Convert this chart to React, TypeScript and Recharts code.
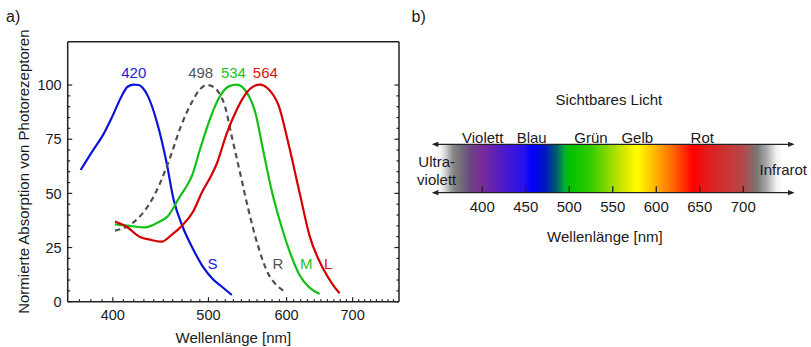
import React from 'react';
import {
  LineChart, Line, XAxis, YAxis, ReferenceDot, ReferenceLine, AreaChart, Area,
} from 'recharts';

// ---------- Panel a data ----------
const sCone = [
  { x: 371, y: 60.8 }, { x: 382, y: 70 }, { x: 391, y: 77 }, { x: 400, y: 86 },
  { x: 408, y: 94.6 }, { x: 414, y: 99.2 }, { x: 420, y: 100.2 }, { x: 425, y: 100 },
  { x: 429, y: 98.6 }, { x: 434, y: 95 }, { x: 443.6, y: 82.5 }, { x: 453.3, y: 64.5 },
  { x: 461, y: 47 }, { x: 470.8, y: 34.6 }, { x: 482, y: 24.6 }, { x: 493.5, y: 16.2 },
  { x: 505, y: 10.5 }, { x: 516, y: 6.9 }, { x: 528, y: 3.1 },
];
const rods = [
  { x: 402, y: 32.8 }, { x: 413, y: 34.6 }, { x: 425.7, y: 39.2 }, { x: 436, y: 45.4 },
  { x: 446.5, y: 54.6 }, { x: 457.5, y: 66.9 }, { x: 468.7, y: 80.8 }, { x: 480.4, y: 91.6 },
  { x: 490, y: 98 }, { x: 498, y: 100 }, { x: 505, y: 99.3 }, { x: 511, y: 97.2 },
  { x: 519.8, y: 90 }, { x: 528, y: 76.2 }, { x: 538.4, y: 59.3 }, { x: 549, y: 42.3 },
  { x: 561.6, y: 25.4 }, { x: 574.6, y: 13.1 }, { x: 586, y: 7.7 }, { x: 597, y: 4.8 },
];
const mCone = [
  { x: 402, y: 35.7 }, { x: 416, y: 35 }, { x: 431, y: 34.3 }, { x: 444, y: 36.5 },
  { x: 455, y: 39.6 }, { x: 467, y: 48 }, { x: 476, y: 54 }, { x: 481, y: 58 },
  { x: 490, y: 70 }, { x: 501, y: 83.5 }, { x: 513, y: 94.5 }, { x: 525, y: 99.5 },
  { x: 534, y: 100.2 }, { x: 546, y: 97 }, { x: 558, y: 87 }, { x: 568, y: 70 },
  { x: 579, y: 52 }, { x: 593, y: 34.6 }, { x: 607, y: 20.8 }, { x: 619, y: 12 },
  { x: 633, y: 6.5 }, { x: 648, y: 3.6 },
];
const lCone = [
  { x: 402, y: 37 }, { x: 413, y: 34.6 }, { x: 425.7, y: 30 }, { x: 437.7, y: 28.5 },
  { x: 448, y: 27.7 }, { x: 458.8, y: 30.8 }, { x: 470.8, y: 35.4 }, { x: 482.3, y: 41.5 },
  { x: 492.8, y: 50.8 }, { x: 503, y: 58 }, { x: 510, y: 63.9 }, { x: 521.8, y: 77.7 },
  { x: 534, y: 88.5 }, { x: 546, y: 96.2 }, { x: 556, y: 99.5 }, { x: 564, y: 100.2 },
  { x: 574, y: 98.5 }, { x: 589, y: 90.5 }, { x: 604, y: 71 }, { x: 618.7, y: 50 },
  { x: 633, y: 30.5 }, { x: 653, y: 15.5 }, { x: 668, y: 8 }, { x: 679, y: 3.9 },
];

const peakTexts = ['420', '498', '534', '564'];
const peakLabelX = [420, 491, 530, 571];
const peakLabelY = 105.7;
const curveNames = ['S', 'R', 'M', 'L'];
const curveNameX = [504.7, 588, 628.3, 661];
const curveNameY = 17.4;

const xMajorTicks = [400, 500, 600, 700];
const xAllTicks = Array.from({ length: 41 }, (_, i) => 370 + i * 10);
const yMajorTicks = [0, 25, 50, 75, 100];
const yAllTicks = Array.from({ length: 21 }, (_, i) => i * 5);

// ---------- Panel b data ----------
const specTicks = [400, 450, 500, 550, 600, 650, 700];
const bandData = [{ x: 345, y: 1 }, { x: 750, y: 1 }];
const spectrumStops: [number, string][] = [
  [345, '#ffffff'], [352, '#f4f4f4'], [358, '#d0d0d0'], [366, '#8a8a8a'],
  [372, '#787878'], [386, '#6a4880'],
  [400, '#7a2a9a'], [426, '#4a1acc'], [449, '#2510ee'], [457, '#0000ff'],
  [472, '#0015c0'], [485, '#005a70'], [495, '#00b030'], [500, '#00c000'],
  [525, '#33cc00'], [550, '#a0dd00'], [570, '#eeee00'], [578, '#ffff00'],
  [600, '#ffb000'], [621, '#ff6000'], [642, '#ff0000'], [660, '#e01e1e'],
  [700, '#b44848'], [716, '#777777'], [727, '#aaaaaa'], [738, '#f0f0f0'], [745, '#ffffff'],
];
const colorNames = ['Violett', 'Blau', 'Grün', 'Gelb', 'Rot'];
const colorNameX = [400.5, 456.8, 524.9, 578.2, 652.9];
const annotations = [
  { text: 'Sichtbares Licht', x: 545.6, y: 1.915 },
  { text: 'Ultra-', x: 347.6, y: 0.64 },
  { text: 'violett', x: 347.6, y: 0.262 },
  { text: 'Infrarot', x: 746, y: 0.469 },
  { text: 'Wellenlänge [nm]', x: 541, y: -0.909 },
];

// ---------- styles ----------
const FONT = '"Liberation Sans", Arial, Helvetica, sans-serif';
const AX = '#222222';
const TXT = '#1a1a1a';
const curveColors = ['#0a14d8', '#505050', '#12c012', '#d40000'];
const labelColors = ['#2020dd', '#555555', '#22c422', '#dd1111'];

const XTickA = (props: any) => {
  const { x, y, payload } = props;
  const v = payload.value;
  const major = xMajorTicks.includes(v);
  return (
    <g>
      <line x1={x} x2={x} y1={y} y2={y - (major ? 4.5 : 2.5)} stroke={AX} strokeWidth={1.2} />
      {major && (
        <text x={x} y={y + 13.5} dy="0.36em" textAnchor="middle" fontSize={14.5} fill={TXT} fontFamily={FONT}>
          {v}
        </text>
      )}
    </g>
  );
};

const YTickL = (props: any) => {
  const { x, y, payload } = props;
  const v = payload.value;
  const major = yMajorTicks.includes(v);
  return (
    <g>
      <line x1={x} x2={x + (major ? 4.5 : 2.5)} y1={y} y2={y} stroke={AX} strokeWidth={1.2} />
      {major && (
        <text x={x - 6} y={y} dy="0.36em" textAnchor="end" fontSize={14.5} fill={TXT} fontFamily={FONT}>
          {v}
        </text>
      )}
    </g>
  );
};

const YTickR = (props: any) => {
  const { x, y, payload } = props;
  const major = yMajorTicks.includes(payload.value);
  return (
    <g>
      <line x1={x} x2={x - (major ? 4.5 : 2.5)} y1={y} y2={y} stroke={AX} strokeWidth={1.2} />
    </g>
  );
};

const XTickB = (props: any) => {
  const { x, y, payload } = props;
  return (
    <g>
      <line x1={x} x2={x} y1={y} y2={y - 6.5} stroke={AX} strokeWidth={1.3} />
      <text x={x} y={y + 14} dy="0.36em" textAnchor="middle" fontSize={15} fill={TXT} fontFamily={FONT}>
        {payload.value}
      </text>
    </g>
  );
};

const arrowShape = (p: any) => {
  const { x1, y1, x2 } = p;
  const h = 6.5;
  const w = 2.6;
  return (
    <g>
      <line x1={x1 + 2} x2={x2 - 2} y1={y1} y2={y1} stroke={AX} strokeWidth={1.3} />
      <polygon points={`${x1},${y1} ${x1 + h},${y1 - w} ${x1 + h},${y1 + w}`} fill={AX} />
      <polygon points={`${x2},${y1} ${x2 - h},${y1 - w} ${x2 - h},${y1 + w}`} fill={AX} />
    </g>
  );
};

const seriesList = [sCone, rods, mCone, lCone];

export default function App() {
  const stopLo = bandData[0].x;
  const stopHi = bandData[bandData.length - 1].x;
  return (
    <div style={{ position: 'absolute', left: 0, top: 0, width: 811, height: 347, background: '#fff', fontFamily: FONT }}>
      <div style={{ position: 'absolute', left: 6, top: 8.5, fontSize: 16, lineHeight: '16px', color: TXT }}>a)</div>
      <div style={{ position: 'absolute', left: 411.5, top: 8.5, fontSize: 16, lineHeight: '16px', color: TXT }}>b)</div>

      <div style={{ position: 'absolute', left: 0, top: 0 }}>
        <LineChart width={410} height={347} margin={{ top: 41.7, right: 0, bottom: 0, left: 0 }}>
          <XAxis
            xAxisId="a"
            dataKey="x"
            type="number"
            scale="log"
            domain={[360, 780]}
            allowDataOverflow
            ticks={xAllTicks}
            interval={0}
            tick={XTickA}
            tickLine={false}
            tickSize={0}
            tickMargin={0}
            axisLine={{ stroke: AX, strokeWidth: 1.5 }}
            height={45.3}
            label={{ value: 'Wellenlänge [nm]', position: 'center', dy: 13.6, fontSize: 15, fill: TXT, fontFamily: FONT }}
          />
          <YAxis
            yAxisId="l"
            type="number"
            domain={[0, 120]}
            allowDataOverflow
            ticks={yAllTicks}
            interval={0}
            tick={YTickL}
            tickLine={false}
            tickSize={0}
            tickMargin={0}
            axisLine={{ stroke: AX, strokeWidth: 1.5 }}
            width={67.7}
            label={{
              value: 'Normierte Absorption von Photorezeptoren',
              angle: -90,
              position: 'center',
              dx: -9.85,
              fontSize: 15,
              fill: TXT,
              fontFamily: FONT,
            }}
          />
          <YAxis
            yAxisId="r"
            orientation="right"
            type="number"
            domain={[0, 120]}
            allowDataOverflow
            ticks={yAllTicks}
            interval={0}
            tick={YTickR}
            tickLine={false}
            tickSize={0}
            tickMargin={0}
            axisLine={{ stroke: AX, strokeWidth: 1.5 }}
            width={11}
          />
          <ReferenceLine xAxisId="a" yAxisId="l" y={120} stroke={AX} strokeWidth={1.5} />
          {seriesList.map((d, i) => (
            <Line
              key={curveNames[i]}
              xAxisId="a"
              yAxisId="l"
              data={d}
              dataKey="y"
              type="monotone"
              stroke={curveColors[i]}
              strokeWidth={2.2}
              strokeDasharray={i === 1 ? '5.5 4' : undefined}
              dot={false}
              activeDot={false}
              isAnimationActive={false}
            />
          ))}
          {peakTexts.map((t, i) => (
            <ReferenceDot
              key={'p' + t}
              xAxisId="a"
              yAxisId="l"
              x={peakLabelX[i]}
              y={peakLabelY}
              r={0}
              fill="none"
              stroke="none"
              ifOverflow="visible"
              label={{ value: t, position: 'center', fontSize: 15, fill: labelColors[i], fontFamily: FONT }}
            />
          ))}
          {curveNames.map((t, i) => (
            <ReferenceDot
              key={'n' + t}
              xAxisId="a"
              yAxisId="l"
              x={curveNameX[i]}
              y={curveNameY}
              r={0}
              fill="none"
              stroke="none"
              ifOverflow="visible"
              label={{ value: t, position: 'center', fontSize: 15, fill: labelColors[i], fontFamily: FONT }}
            />
          ))}
        </LineChart>
      </div>

      <div style={{ position: 'absolute', left: 410, top: 0 }}>
        <AreaChart width={401} height={347} margin={{ top: 144.3, right: 16.4, bottom: 347 - 192.7 - 20, left: 21.8 }}>
          <defs>
            <linearGradient id="spectrumGrad" x1="0" y1="0" x2="1" y2="0">
              {spectrumStops.map(([l, c], i) => (
                <stop key={i} offset={(l - stopLo) / (stopHi - stopLo)} stopColor={c} />
              ))}
            </linearGradient>
          </defs>
          <XAxis
            dataKey="x"
            type="number"
            domain={[342, 759]}
            allowDataOverflow
            ticks={specTicks}
            interval={0}
            tick={XTickB}
            tickLine={false}
            axisLine={false}
            tickSize={0}
            tickMargin={0}
            height={20}
          />
          <YAxis hide type="number" domain={[0, 1]} allowDataOverflow />
          <Area
            data={bandData}
            dataKey="y"
            type="linear"
            stroke="none"
            fill="url(#spectrumGrad)"
            fillOpacity={1}
            baseValue={0}
            isAnimationActive={false}
            activeDot={false}
          />
          <ReferenceLine y={1} shape={arrowShape} ifOverflow="visible" />
          <ReferenceLine y={0} shape={arrowShape} ifOverflow="visible" />
          {colorNames.map((t, i) => (
            <ReferenceDot
              key={'c' + t}
              x={colorNameX[i]}
              y={1.145}
              r={0}
              fill="none"
              stroke="none"
              ifOverflow="visible"
              label={{ value: t, position: 'center', fontSize: 15, fill: TXT, fontFamily: FONT }}
            />
          ))}
          {annotations.map((a) => (
            <ReferenceDot
              key={a.text}
              x={a.x}
              y={a.y}
              r={0}
              fill="none"
              stroke="none"
              ifOverflow="visible"
              label={{ value: a.text, position: 'center', fontSize: 15, fill: TXT, fontFamily: FONT }}
            />
          ))}
        </AreaChart>
      </div>
    </div>
  );
}
